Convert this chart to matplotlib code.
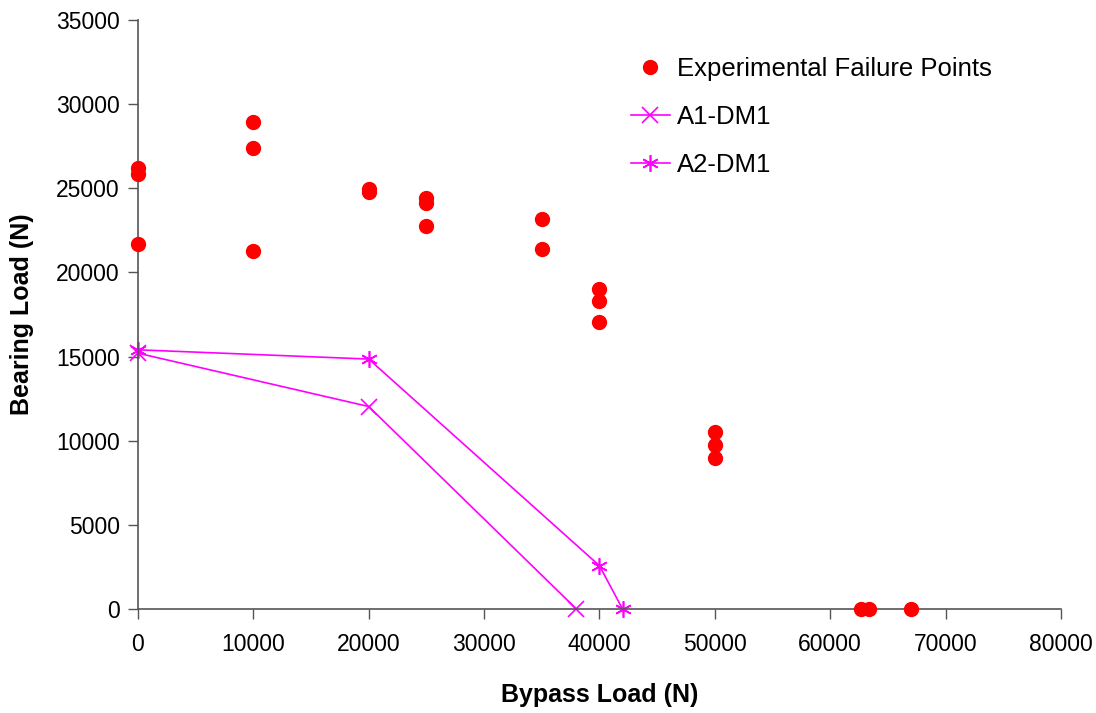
import numpy as np
import matplotlib
matplotlib.use("Agg")
import matplotlib.pyplot as plt

plt.rcParams['font.family'] = ['Liberation Sans', 'DejaVu Sans']

# Experimental failure points (bypass load, bearing load)
exp_bypass = [0, 0, 0, 10000, 10000, 10000, 20000, 20000,
              25000, 25000, 25000, 35000, 35000,
              40000, 40000, 40000, 50000, 50000, 50000,
              62700, 63400, 67000]
exp_bearing = [26200, 25850, 21700, 28950, 27400, 21280, 24950, 24780,
               24420, 24130, 22760, 23170, 21400,
               19020, 18300, 17050, 10520, 9750, 8970,
               0, 0, 0]

# Model predictions
a1_bypass = [0, 20000, 38000]
a1_bearing = [15200, 12030, 0]
a2_bypass = [0, 20000, 40000, 42000]
a2_bearing = [15400, 14850, 2570, 0]

x_ticks = np.arange(0, 80001, 10000)
y_ticks = np.arange(0, 35001, 5000)

fig = plt.figure(figsize=(10.96, 7.13), dpi=100)
ax = fig.add_axes([0.1259, 0.1459, 0.8421, 0.8261])

ax.plot(exp_bypass, exp_bearing, 'o', color='#ff0000', markersize=10,
        label='Experimental Failure Points', clip_on=False, zorder=3)
ax.plot(a1_bypass, a1_bearing, '-x', color='#ff00ff', lw=1.2, markersize=12,
        markeredgewidth=1.2, label='A1-DM1', clip_on=False)
ax.plot(a2_bypass, a2_bearing, '-', color='#ff00ff', lw=1.2, marker=(6, 2, 0),
        markersize=12, markeredgewidth=1.2, label='A2-DM1', clip_on=False)

ax.set_xlim(0, 80000)
ax.set_ylim(0, 35000)
ax.set_xticks(x_ticks)
ax.set_yticks(y_ticks)
ax.tick_params(axis='both', labelsize=16.5, direction='out', length=7,
               width=1, color='#555555', pad=6)
ax.tick_params(axis='x', pad=10)

for side in ['top', 'right']:
    ax.spines[side].set_visible(False)
for side in ['left', 'bottom']:
    ax.spines[side].set_color('#555555')
    ax.spines[side].set_linewidth(1.2)

ax.set_xlabel('Bypass Load (N)', fontsize=18, fontweight='bold', labelpad=20)
ax.set_ylabel('Bearing Load (N)', fontsize=18, fontweight='bold', labelpad=16)

ax.legend(loc='upper left', bbox_to_anchor=(631 / 1096, 1 - 57 / 713),
          bbox_transform=fig.transFigure, frameon=False, borderpad=0,
          borderaxespad=0, fontsize=18.5, handlelength=1.5,
          handletextpad=0.3, labelspacing=0.93)

fig.savefig('out.png', dpi=100)
